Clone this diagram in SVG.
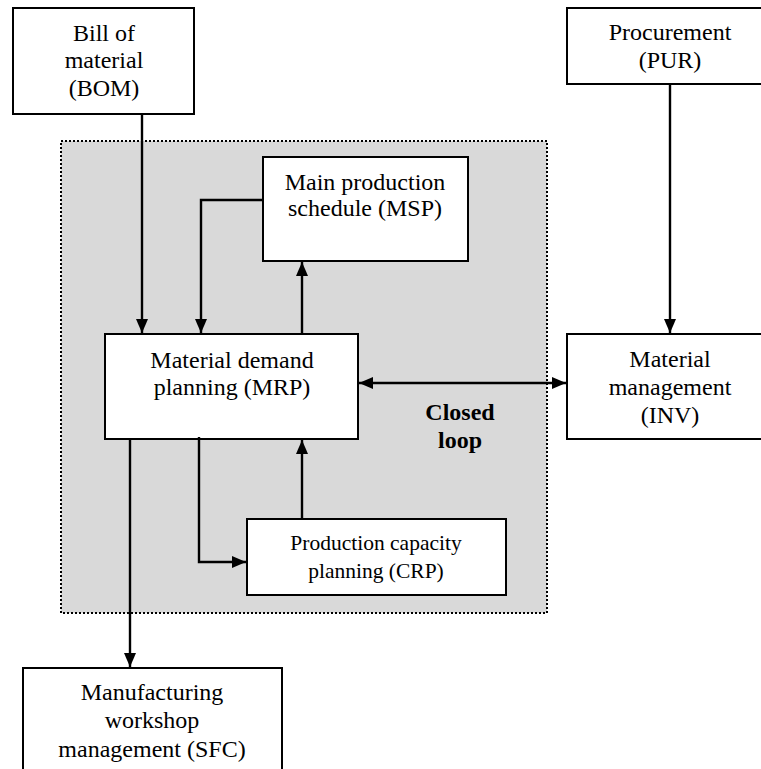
<svg xmlns="http://www.w3.org/2000/svg" width="761" height="769" viewBox="0 0 761 769">
<style>
.box{fill:#fff;stroke:#000;stroke-width:2}
.t{font-family:"Liberation Serif","Times New Roman",serif;font-size:24px;fill:#000;text-anchor:middle}
.s{font-size:21.5px}
.b{font-weight:bold}
.c{fill:none;stroke:#000;stroke-width:2.4}
</style>
<defs>
<marker id="ah" viewBox="0 0 14 12" refX="14" refY="6" markerWidth="14" markerHeight="12" markerUnits="userSpaceOnUse" orient="auto-start-reverse">
<path d="M0,0L14,6L0,12z" fill="#000"/>
</marker>
</defs>
<rect id="closed-loop-area" x="61" y="141" width="486" height="472" fill="#d9d9d9" stroke="#000" stroke-width="2" stroke-dasharray="2,2"/>
<g id="bom"><rect class="box" x="13" y="8" width="181" height="106"/>
<text class="t" x="104" y="41">Bill of</text><text class="t" x="104" y="68">material</text><text class="t" x="104" y="96">(BOM)</text></g>
<g id="pur"><rect class="box" x="567" y="8" width="210" height="76"/>
<text class="t" x="670" y="40">Procurement</text><text class="t" x="670" y="68">(PUR)</text></g>
<g id="msp"><rect class="box" x="263" y="157" width="205" height="104"/>
<text class="t" x="365" y="190">Main production</text><text class="t" x="365" y="216">schedule (MSP)</text></g>
<g id="mrp"><rect class="box" x="105" y="334" width="253" height="105"/>
<text class="t" x="232" y="368">Material demand</text><text class="t" x="232" y="395">planning (MRP)</text></g>
<g id="inv"><rect class="box" x="567" y="334" width="210" height="105"/>
<text class="t" x="670" y="367">Material</text><text class="t" x="670" y="395">management</text><text class="t" x="670" y="423">(INV)</text></g>
<g id="label"><text class="t b" x="460" y="420">Closed</text><text class="t b" x="460" y="448">loop</text></g>
<g id="crp"><rect class="box" x="247" y="519" width="259" height="76"/>
<text class="t s" x="376" y="550">Production capacity</text><text class="t s" x="376" y="578">planning (CRP)</text></g>
<g id="sfc"><rect class="box" x="23" y="668" width="259" height="120"/>
<text class="t" x="152" y="700">Manufacturing</text><text class="t" x="152" y="728">workshop</text><text class="t" x="152" y="757">management (SFC)</text></g>
<g id="connectors">
<path class="c" d="M142,114V333" marker-end="url(#ah)"/>
<path class="c" d="M263,200H201V333" marker-end="url(#ah)"/>
<path class="c" d="M302,334V262" marker-end="url(#ah)"/>
<path class="c" d="M670,84V333" marker-end="url(#ah)"/>
<path class="c" d="M359,383H566" marker-start="url(#ah)" marker-end="url(#ah)"/>
<path class="c" d="M302,519V440" marker-end="url(#ah)"/>
<path class="c" d="M199,437V562H246" marker-end="url(#ah)"/>
<path class="c" d="M130,439V667" marker-end="url(#ah)"/>
</g>
</svg>
